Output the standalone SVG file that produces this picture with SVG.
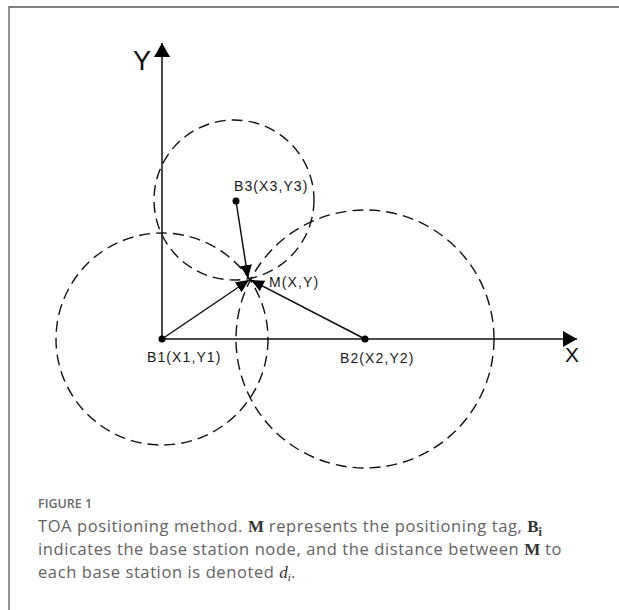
<svg xmlns="http://www.w3.org/2000/svg" width="619" height="610" viewBox="0 0 619 610">
<style>
.frame{fill:none;stroke:#5a5a5a;stroke-width:1.3}
.axis{fill:none;stroke:#111;stroke-width:1.5}
.circ{fill:none;stroke:#111;stroke-width:1.4;stroke-dasharray:11 6}
.conn{fill:none;stroke:#111;stroke-width:1.5}
.dot{fill:#000}
.lbl{font-family:"Liberation Sans",Arial,sans-serif;font-size:14px;letter-spacing:1.1px;fill:#1a1a1a}
.axlbl{font-family:"Liberation Sans",Arial,sans-serif;fill:#111}
.cap{font-family:"Open Sans","Noto Sans",sans-serif;font-size:16.5px;letter-spacing:0.6px;fill:#626262}
.capb{font-family:"Liberation Serif","Times New Roman",serif;font-weight:bold;fill:#333;letter-spacing:0}
.fig{font-family:"Open Sans","Noto Sans",sans-serif;font-size:12.5px;font-weight:600;fill:#6a6a6a}
</style>
<defs>
<marker id="axhead" markerUnits="userSpaceOnUse" markerWidth="16" markerHeight="16" viewBox="0 0 14 16" refX="14" refY="8" orient="auto">
<path d="M0,0 L14,8 L0,16 Z" fill="#000"/>
</marker>
<marker id="ahead" markerUnits="userSpaceOnUse" markerWidth="13" markerHeight="12" viewBox="0 0 12 11" refX="12" refY="5.5" orient="auto">
<path d="M0,0 L12,5.5 L0,11 Z" fill="#000"/>
</marker>
</defs>
<path class="frame" d="M9,610 V7 H619"/>
<g id="axes">
<line class="axis" x1="162" y1="339" x2="162" y2="43" marker-end="url(#axhead)"/>
<line class="axis" x1="162" y1="339" x2="577" y2="339" marker-end="url(#axhead)"/>
<text class="axlbl" x="133" y="70" font-size="27">Y</text>
<text class="axlbl" x="565" y="362" font-size="21">X</text>
</g>
<g id="circles">
<circle class="circ" cx="162" cy="339" r="106"/>
<circle class="circ" cx="365" cy="339" r="129"/>
<circle class="circ" cx="234" cy="200" r="80"/>
</g>
<g id="connectors">
<line class="conn" x1="162" y1="339" x2="249" y2="280" marker-end="url(#ahead)"/>
<line class="conn" x1="365" y1="339" x2="251" y2="280" marker-end="url(#ahead)"/>
<line class="conn" x1="236" y1="201" x2="248" y2="278" marker-end="url(#ahead)"/>
</g>
<g id="B1">
<circle class="dot" cx="162" cy="339" r="3.5"/>
<text class="lbl" x="147" y="362">B1(X1,Y1)</text>
</g>
<g id="B2">
<circle class="dot" cx="365" cy="339" r="3.5"/>
<text class="lbl" x="340" y="363">B2(X2,Y2)</text>
</g>
<g id="B3">
<circle class="dot" cx="236" cy="201" r="3.5"/>
<text class="lbl" x="234" y="191">B3(X3,Y3)</text>
</g>
<g id="M">
<text class="lbl" x="269" y="287">M(X,Y)</text>
</g>
<g id="caption">
<text class="fig" x="38" y="508">FIGURE 1</text>
<text class="cap" x="38" y="532">TOA positioning method. <tspan class="capb" font-size="17">M</tspan> represents the positioning tag, <tspan class="capb" font-size="17">B</tspan><tspan class="capb" font-size="12" dy="4">i</tspan></text>
<text class="cap" x="38" y="555">indicates the base station node, and the distance between <tspan class="capb" font-size="17">M</tspan> to</text>
<text class="cap" x="38" y="578">each base station is denoted <tspan font-family="'Liberation Serif',serif" font-style="italic" font-size="17" fill="#333" letter-spacing="0">d</tspan><tspan font-family="'Liberation Serif',serif" font-style="italic" font-size="11" dy="3" fill="#333" letter-spacing="0">i</tspan><tspan dy="-3">.</tspan></text>
</g>
</svg>
